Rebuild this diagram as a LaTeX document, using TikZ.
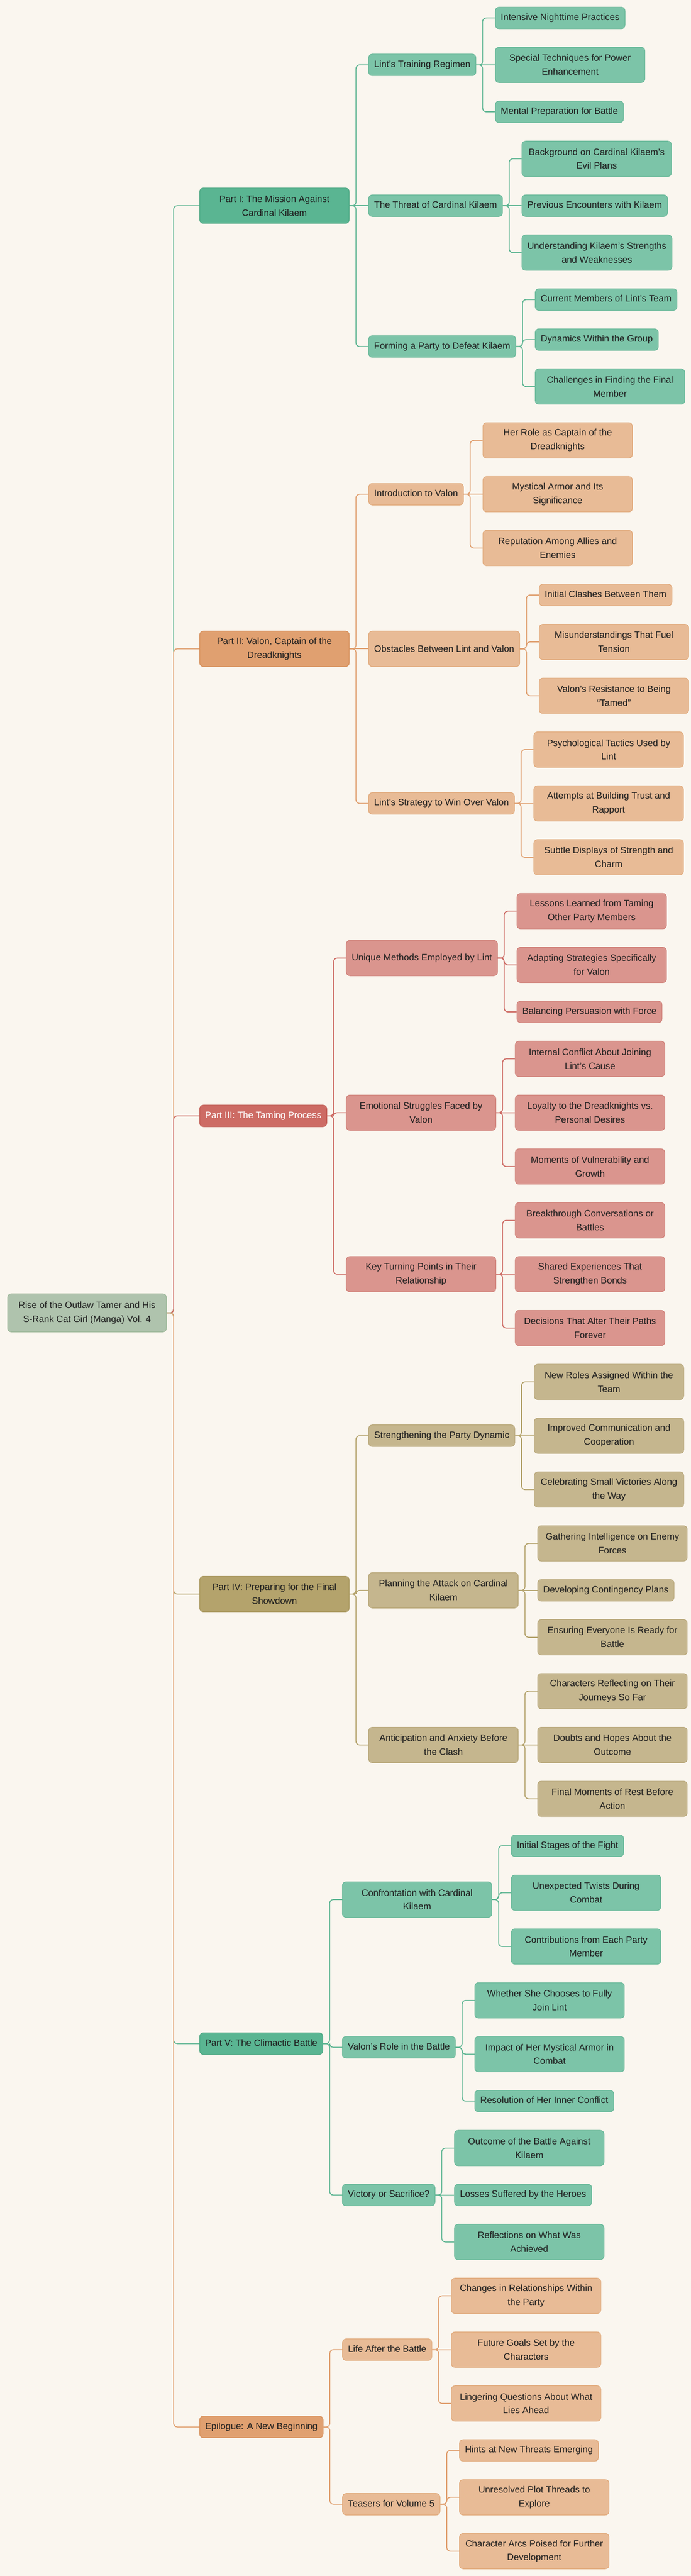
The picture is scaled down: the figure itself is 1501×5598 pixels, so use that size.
\documentclass[tikz,border=0pt]{standalone}
\usepackage{fontspec}
\setmainfont{Liberation Sans}
\usetikzlibrary{positioning}

\definecolor{paper}{HTML}{FAF6EF}
\definecolor{txt}{HTML}{1E1E1E}
\definecolor{rootF}{HTML}{AFC3AD}
\definecolor{rootD}{HTML}{97B494}
\definecolor{gMainF}{HTML}{5AB592}
\definecolor{gMainD}{HTML}{4AA580}
\definecolor{gSubF}{HTML}{7CC4A8}
\definecolor{gSubD}{HTML}{66B797}
\definecolor{oMainF}{HTML}{E0A070}
\definecolor{oMainD}{HTML}{D48C56}
\definecolor{oSubF}{HTML}{E8BB96}
\definecolor{oSubD}{HTML}{E0A878}
\definecolor{rMainF}{HTML}{CD6B64}
\definecolor{rMainD}{HTML}{C05A52}
\definecolor{rSubF}{HTML}{DA958E}
\definecolor{rSubD}{HTML}{CF7F77}
\definecolor{yMainF}{HTML}{B4A36C}
\definecolor{yMainD}{HTML}{A6945A}
\definecolor{ySubF}{HTML}{C5B68E}
\definecolor{ySubD}{HTML}{B7A677}
\definecolor{cGreen}{HTML}{5DB592}
\definecolor{cOrange}{HTML}{E0A070}
\definecolor{cRed}{HTML}{CD6B64}
\definecolor{cOlive}{HTML}{B4A36C}

\begin{document}
\begin{tikzpicture}[x=0.5pt, y=-0.5pt, font=\fontsize{10}{15}\selectfont]
	\tikzstyle{box}=[rectangle, rounded corners=4pt, line width=0.6pt, inner xsep=6pt, inner ysep=2pt, align=center, text=txt]
	\tikzstyle{one}=[box, minimum height=23.5pt, text height=7.5pt, text depth=2.5pt]
	\tikzstyle{two}=[box, minimum height=38.5pt, minimum width=162.5pt]
	\tikzstyle{kid}=[anchor=west, xshift=20.5pt]
	\tikzstyle{part}=[anchor=west, xshift=35.5pt]
	\tikzstyle{gMain}=[fill=gMainF, draw=gMainD]
	\tikzstyle{gSub}=[fill=gSubF, draw=gSubD]
	\tikzstyle{oMain}=[fill=oMainF, draw=oMainD]
	\tikzstyle{oSub}=[fill=oSubF, draw=oSubD]
	\tikzstyle{rMain}=[fill=rMainF, draw=rMainD, text=white]
	\tikzstyle{rSub}=[fill=rSubF, draw=rSubD]
	\tikzstyle{yMain}=[fill=yMainF, draw=yMainD]
	\tikzstyle{ySub}=[fill=ySubF, draw=ySubD]
	\tikzstyle{EdgeG}=[draw=cGreen, line width=1pt, rounded corners=4pt]
	\tikzstyle{EdgeO}=[draw=cOrange, line width=1pt, rounded corners=4pt]
	\tikzstyle{EdgeR}=[draw=cRed, line width=1pt, rounded corners=4pt]
	\tikzstyle{EdgeY}=[draw=cOlive, line width=1pt, rounded corners=4pt]

	\fill[paper] (0,0) rectangle (1501,5598);
	\useasboundingbox (0,0) rectangle (1501,5598);

	% root and parts
	\node[box, fill=rootF, draw=rootD, minimum width=172.5pt, minimum height=41.5pt, anchor=west] (root) at (16,2853) {Rise of the Outlaw Tamer and His\\S-Rank Cat Girl (Manga) Vol. 4};
	\node[two, gMain, part] (p1) at (root.east |- 0,447) {Part I: The Mission Against\\Cardinal Kilaem};
	\node[two, oMain, part] (p2) at (root.east |- 0,1410) {Part II: Valon, Captain of the\\Dreadknights};
	\node[one, rMain, part] (p3) at (root.east |- 0,2425) {Part III: The Taming Process};
	\node[two, yMain, part] (p4) at (root.east |- 0,3464) {Part IV: Preparing for the Final\\Showdown};
	\node[one, gMain, part] (p5) at (root.east |- 0,4441) {Part V: The Climactic Battle};
	\node[one, oMain, part] (ep) at (root.east |- 0,5274) {Epilogue: A New Beginning};

	% part I
	\node[one, gSub, kid] (lint) at (p1.east |- 0,141) {Lint’s Training Regimen};
	\node[one, gSub, kid] (threat) at (p1.east |- 0,447) {The Threat of Cardinal Kilaem};
	\node[one, gSub, kid] (party) at (p1.east |- 0,753) {Forming a Party to Defeat Kilaem};
	\node[one, gSub, kid] (lint1) at (lint.east |- 0,39) {Intensive Nighttime Practices};
	\node[two, gSub, kid] (lint2) at (lint.east |- 0,141) {Special Techniques for Power\\Enhancement};
	\node[one, gSub, kid] (lint3) at (lint.east |- 0,243) {Mental Preparation for Battle};
	\node[two, gSub, kid] (threat1) at (threat.east |- 0,345) {Background on Cardinal Kilaem’s\\Evil Plans};
	\node[one, gSub, kid] (threat2) at (threat.east |- 0,447) {Previous Encounters with Kilaem};
	\node[two, gSub, kid] (threat3) at (threat.east |- 0,549) {Understanding Kilaem’s Strengths\\and Weaknesses};
	\node[one, gSub, kid] (party1) at (party.east |- 0,651) {Current Members of Lint’s Team};
	\node[one, gSub, kid] (party2) at (party.east |- 0,738) {Dynamics Within the Group};
	\node[two, gSub, kid] (party3) at (party.east |- 0,840) {Challenges in Finding the Final\\Member};

	% part II
	\node[one, oSub, kid] (intro) at (p2.east |- 0,1074) {Introduction to Valon};
	\node[two, oSub, kid] (obst) at (p2.east |- 0,1410) {Obstacles Between Lint and Valon};
	\node[one, oSub, kid] (strat) at (p2.east |- 0,1746) {Lint’s Strategy to Win Over Valon};
	\node[two, oSub, kid] (intro1) at (intro.east |- 0,957) {Her Role as Captain of the\\Dreadknights};
	\node[two, oSub, kid] (intro2) at (intro.east |- 0,1074) {Mystical Armor and Its\\Significance};
	\node[two, oSub, kid] (intro3) at (intro.east |- 0,1191) {Reputation Among Allies and\\Enemies};
	\node[one, oSub, kid] (obst1) at (obst.east |- 0,1293) {Initial Clashes Between Them};
	\node[two, oSub, kid] (obst2) at (obst.east |- 0,1395) {Misunderstandings That Fuel\\Tension};
	\node[two, oSub, kid] (obst3) at (obst.east |- 0,1512) {Valon’s Resistance to Being\\“Tamed”};
	\node[two, oSub, kid] (strat1) at (strat.east |- 0,1629) {Psychological Tactics Used by\\Lint};
	\node[two, oSub, kid] (strat2) at (strat.east |- 0,1746) {Attempts at Building Trust and\\Rapport};
	\node[two, oSub, kid] (strat3) at (strat.east |- 0,1863) {Subtle Displays of Strength and\\Charm};

	% part III
	\node[two, rSub, kid] (method) at (p3.east |- 0,2082) {Unique Methods Employed by Lint};
	\node[two, rSub, kid] (emot) at (p3.east |- 0,2418) {Emotional Struggles Faced by\\Valon};
	\node[two, rSub, kid] (turn) at (p3.east |- 0,2769) {Key Turning Points in Their\\Relationship};
	\node[two, rSub, kid] (method1) at (method.east |- 0,1980) {Lessons Learned from Taming\\Other Party Members};
	\node[two, rSub, kid] (method2) at (method.east |- 0,2097) {Adapting Strategies Specifically\\for Valon};
	\node[one, rSub, kid] (method3) at (method.east |- 0,2199) {Balancing Persuasion with Force};
	\node[two, rSub, kid] (emot1) at (emot.east |- 0,2301) {Internal Conflict About Joining\\Lint’s Cause};
	\node[two, rSub, kid] (emot2) at (emot.east |- 0,2418) {Loyalty to the Dreadknights vs.\\Personal Desires};
	\node[two, rSub, kid] (emot3) at (emot.east |- 0,2535) {Moments of Vulnerability and\\Growth};
	\node[two, rSub, kid] (turn1) at (turn.east |- 0,2652) {Breakthrough Conversations or\\Battles};
	\node[two, rSub, kid] (turn2) at (turn.east |- 0,2769) {Shared Experiences That\\Strengthen Bonds};
	\node[two, rSub, kid] (turn3) at (turn.east |- 0,2886) {Decisions That Alter Their Paths\\Forever};

	% part IV
	\node[one, ySub, kid] (dyn) at (p4.east |- 0,3120) {Strengthening the Party Dynamic};
	\node[two, ySub, kid] (plan) at (p4.east |- 0,3456) {Planning the Attack on Cardinal\\Kilaem};
	\node[two, ySub, kid] (antic) at (p4.east |- 0,3792) {Anticipation and Anxiety Before\\the Clash};
	\node[two, ySub, kid] (dyn1) at (dyn.east |- 0,3003) {New Roles Assigned Within the\\Team};
	\node[two, ySub, kid] (dyn2) at (dyn.east |- 0,3120) {Improved Communication and\\Cooperation};
	\node[two, ySub, kid] (dyn3) at (dyn.east |- 0,3237) {Celebrating Small Victories Along\\the Way};
	\node[two, ySub, kid] (plan1) at (plan.east |- 0,3354) {Gathering Intelligence on Enemy\\Forces};
	\node[one, ySub, kid] (plan2) at (plan.east |- 0,3456) {Developing Contingency Plans};
	\node[two, ySub, kid] (plan3) at (plan.east |- 0,3558) {Ensuring Everyone Is Ready for\\Battle};
	\node[two, ySub, kid] (antic1) at (antic.east |- 0,3675) {Characters Reflecting on Their\\Journeys So Far};
	\node[two, ySub, kid] (antic2) at (antic.east |- 0,3792) {Doubts and Hopes About the\\Outcome};
	\node[two, ySub, kid] (antic3) at (antic.east |- 0,3909) {Final Moments of Rest Before\\Action};

	% part V
	\node[two, gSub, kid] (conf) at (p5.east |- 0,4128) {Confrontation with Cardinal\\Kilaem};
	\node[one, gSub, kid] (role) at (p5.east |- 0,4449) {Valon’s Role in the Battle};
	\node[one, gSub, kid] (vict) at (p5.east |- 0,4770) {Victory or Sacrifice?};
	\node[one, gSub, kid] (conf1) at (conf.east |- 0,4011) {Initial Stages of the Fight};
	\node[two, gSub, kid] (conf2) at (conf.east |- 0,4113) {Unexpected Twists During\\Combat};
	\node[two, gSub, kid] (conf3) at (conf.east |- 0,4230) {Contributions from Each Party\\Member};
	\node[two, gSub, kid] (role1) at (role.east |- 0,4347) {Whether She Chooses to Fully\\Join Lint};
	\node[two, gSub, kid] (role2) at (role.east |- 0,4464) {Impact of Her Mystical Armor in\\Combat};
	\node[one, gSub, kid] (role3) at (role.east |- 0,4566) {Resolution of Her Inner Conflict};
	\node[two, gSub, kid] (vict1) at (vict.east |- 0,4668) {Outcome of the Battle Against\\Kilaem};
	\node[one, gSub, kid] (vict2) at (vict.east |- 0,4770) {Losses Suffered by the Heroes};
	\node[two, gSub, kid] (vict3) at (vict.east |- 0,4872) {Reflections on What Was\\Achieved};

	% epilogue
	\node[one, oSub, kid] (life) at (ep.east |- 0,5106) {Life After the Battle};
	\node[one, oSub, kid] (teas) at (ep.east |- 0,5442) {Teasers for Volume 5};
	\node[two, oSub, kid] (life1) at (life.east |- 0,4989) {Changes in Relationships Within\\the Party};
	\node[two, oSub, kid] (life2) at (life.east |- 0,5106) {Future Goals Set by the\\Characters};
	\node[two, oSub, kid] (life3) at (life.east |- 0,5223) {Lingering Questions About What\\Lies Ahead};
	\node[one, oSub, kid] (teas1) at (teas.east |- 0,5325) {Hints at New Threats Emerging};
	\node[two, oSub, kid] (teas2) at (teas.east |- 0,5427) {Unresolved Plot Threads to\\Explore};
	\node[two, oSub, kid] (teas3) at (teas.east |- 0,5544) {Character Arcs Poised for Further\\Development};

	% connectors
	\draw[EdgeG] (root.east) -- ++(7.5pt,0) |- (p1.west);
	\draw[EdgeO] (root.east) -- ++(7.5pt,0) |- (p2.west);
	\draw[EdgeR] (root.east) -- ++(7.5pt,0) |- (p3.west);
	\draw[EdgeY] (root.east) -- ++(7.5pt,0) |- (p4.west);
	\draw[EdgeG] (root.east) -- ++(7.5pt,0) |- (p5.west);
	\draw[EdgeO] (root.east) -- ++(7.5pt,0) |- (ep.west);

	\draw[EdgeG] (p1.east) -- ++(7pt,0) |- (lint.west);
	\draw[EdgeG] (p1.east) -- (threat.west);
	\draw[EdgeG] (p1.east) -- ++(7pt,0) |- (party.west);
	\draw[EdgeG] (lint.east) -- ++(7pt,0) |- (lint1.west);
	\draw[EdgeG] (lint.east) -- (lint2.west);
	\draw[EdgeG] (lint.east) -- ++(7pt,0) |- (lint3.west);
	\draw[EdgeG] (threat.east) -- ++(7pt,0) |- (threat1.west);
	\draw[EdgeG] (threat.east) -- (threat2.west);
	\draw[EdgeG] (threat.east) -- ++(7pt,0) |- (threat3.west);
	\draw[EdgeG] (party.east) -- ++(7pt,0) |- (party1.west);
	\draw[EdgeG] (party.east) -- ++(7pt,0) |- (party2.west);
	\draw[EdgeG] (party.east) -- ++(7pt,0) |- (party3.west);

	\draw[EdgeO] (p2.east) -- ++(7pt,0) |- (intro.west);
	\draw[EdgeO] (p2.east) -- (obst.west);
	\draw[EdgeO] (p2.east) -- ++(7pt,0) |- (strat.west);
	\draw[EdgeO] (intro.east) -- ++(7pt,0) |- (intro1.west);
	\draw[EdgeO] (intro.east) -- (intro2.west);
	\draw[EdgeO] (intro.east) -- ++(7pt,0) |- (intro3.west);
	\draw[EdgeO] (obst.east) -- ++(7pt,0) |- (obst1.west);
	\draw[EdgeO] (obst.east) -- ++(7pt,0) |- (obst2.west);
	\draw[EdgeO] (obst.east) -- ++(7pt,0) |- (obst3.west);
	\draw[EdgeO] (strat.east) -- ++(7pt,0) |- (strat1.west);
	\draw[EdgeO] (strat.east) -- (strat2.west);
	\draw[EdgeO] (strat.east) -- ++(7pt,0) |- (strat3.west);

	\draw[EdgeR] (p3.east) -- ++(7pt,0) |- (method.west);
	\draw[EdgeR] (p3.east) -- ++(7pt,0) |- (emot.west);
	\draw[EdgeR] (p3.east) -- ++(7pt,0) |- (turn.west);
	\draw[EdgeR] (method.east) -- ++(7pt,0) |- (method1.west);
	\draw[EdgeR] (method.east) -- ++(7pt,0) |- (method2.west);
	\draw[EdgeR] (method.east) -- ++(7pt,0) |- (method3.west);
	\draw[EdgeR] (emot.east) -- ++(7pt,0) |- (emot1.west);
	\draw[EdgeR] (emot.east) -- (emot2.west);
	\draw[EdgeR] (emot.east) -- ++(7pt,0) |- (emot3.west);
	\draw[EdgeR] (turn.east) -- ++(7pt,0) |- (turn1.west);
	\draw[EdgeR] (turn.east) -- (turn2.west);
	\draw[EdgeR] (turn.east) -- ++(7pt,0) |- (turn3.west);

	\draw[EdgeY] (p4.east) -- ++(7pt,0) |- (dyn.west);
	\draw[EdgeY] (p4.east) -- ++(7pt,0) |- (plan.west);
	\draw[EdgeY] (p4.east) -- ++(7pt,0) |- (antic.west);
	\draw[EdgeY] (dyn.east) -- ++(7pt,0) |- (dyn1.west);
	\draw[EdgeY] (dyn.east) -- (dyn2.west);
	\draw[EdgeY] (dyn.east) -- ++(7pt,0) |- (dyn3.west);
	\draw[EdgeY] (plan.east) -- ++(7pt,0) |- (plan1.west);
	\draw[EdgeY] (plan.east) -- (plan2.west);
	\draw[EdgeY] (plan.east) -- ++(7pt,0) |- (plan3.west);
	\draw[EdgeY] (antic.east) -- ++(7pt,0) |- (antic1.west);
	\draw[EdgeY] (antic.east) -- (antic2.west);
	\draw[EdgeY] (antic.east) -- ++(7pt,0) |- (antic3.west);

	\draw[EdgeG] (p5.east) -- ++(7pt,0) |- (conf.west);
	\draw[EdgeG] (p5.east) -- ++(7pt,0) |- (role.west);
	\draw[EdgeG] (p5.east) -- ++(7pt,0) |- (vict.west);
	\draw[EdgeG] (conf.east) -- ++(7pt,0) |- (conf1.west);
	\draw[EdgeG] (conf.east) -- ++(7pt,0) |- (conf2.west);
	\draw[EdgeG] (conf.east) -- ++(7pt,0) |- (conf3.west);
	\draw[EdgeG] (role.east) -- ++(7pt,0) |- (role1.west);
	\draw[EdgeG] (role.east) -- ++(7pt,0) |- (role2.west);
	\draw[EdgeG] (role.east) -- ++(7pt,0) |- (role3.west);
	\draw[EdgeG] (vict.east) -- ++(7pt,0) |- (vict1.west);
	\draw[EdgeG] (vict.east) -- (vict2.west);
	\draw[EdgeG] (vict.east) -- ++(7pt,0) |- (vict3.west);

	\draw[EdgeO] (ep.east) -- ++(7pt,0) |- (life.west);
	\draw[EdgeO] (ep.east) -- ++(7pt,0) |- (teas.west);
	\draw[EdgeO] (life.east) -- ++(7pt,0) |- (life1.west);
	\draw[EdgeO] (life.east) -- (life2.west);
	\draw[EdgeO] (life.east) -- ++(7pt,0) |- (life3.west);
	\draw[EdgeO] (teas.east) -- ++(7pt,0) |- (teas1.west);
	\draw[EdgeO] (teas.east) -- ++(7pt,0) |- (teas2.west);
	\draw[EdgeO] (teas.east) -- ++(7pt,0) |- (teas3.west);
\end{tikzpicture}
\end{document}
